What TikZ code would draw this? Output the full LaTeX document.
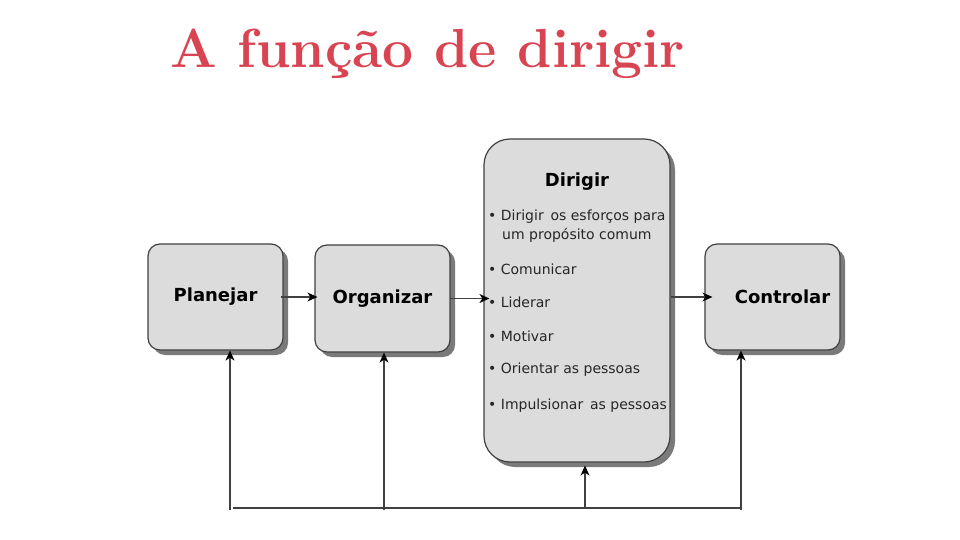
\documentclass[tikz,border=0pt]{standalone}
\usepackage{fontspec}
\newfontfamily\boxfont{DejaVu Sans}
\usetikzlibrary{shadows,arrows.meta}
\definecolor{titlered}{HTML}{D94452}
\definecolor{boxfill}{HTML}{DCDCDC}
\definecolor{boxline}{HTML}{404040}
\definecolor{shade}{HTML}{7A7A7A}
\tikzset{
  stagebox/.style={draw=boxline, line width=1.2pt, fill=boxfill, rounded corners=12pt,
    drop shadow={shadow xshift=5pt, shadow yshift=-5pt, fill=shade, opacity=1},
    inner sep=0pt, font=\boxfont\bfseries\fontsize{18}{21}\selectfont},
  item/.style={anchor=west, inner sep=0pt, font=\boxfont\fontsize{14}{16}\selectfont, text=black!85},
  conn/.style={draw=boxline, line width=1.3pt, -{Stealth[length=10pt,width=9pt,inset=3pt,black]}},
  fb/.style={draw=boxline, line width=1.3pt}
}
\begin{document}
\begin{tikzpicture}[x=1pt,y=-1pt]
\useasboundingbox (0,0) rectangle (960,540);
\node[text=titlered, font=\bfseries\fontsize{55}{66}\selectfont, anchor=base west, inner sep=0pt] (title) at (170,68) {A função de dirigir};

\node[stagebox, minimum width=135pt, minimum height=106pt] (plan) at (215.5,297) {Planejar};
\node[stagebox, minimum width=135pt, minimum height=107pt] (org) at (382.5,298.5) {Organizar};
\node[stagebox, rounded corners=26pt, minimum width=186pt, minimum height=323pt] (dir) at (577,300.5) {};
\node[stagebox, minimum width=135pt, minimum height=106pt] (ctrl) at (772.5,297) {\hspace*{20pt}Controlar};

\node[inner sep=0pt, font=\boxfont\bfseries\fontsize{18}{21}\selectfont] (dt) at (577,182) {Dirigir};
\node[item] (i1) at (488,217) {• Dirigir\, os esforços para};
\node[item] (i1b) at (502,235) {um propósito comum};
\node[item] (i2) at (488,269) {• Comunicar};
\node[item] (i3) at (488,302) {• Liderar};
\node[item] (i4) at (488,336) {• Motivar};
\node[item] (i5) at (488,370) {• Orientar as pessoas};
\node[item] (i6) at (488,406) {• Impulsionar\, as pessoas};

\draw[conn, shorten <=-3pt, shorten >=-3pt] (plan.east) -- (plan.east -| org.west);
\draw[conn, shorten <=-1pt, shorten >=-6pt] (org.east) -- (org.east -| dir.west);
\draw[conn, shorten >=-8pt] (dir.east |- ctrl.west) -- (ctrl.west);

\coordinate (fbL) at (233,508);
\coordinate (fbR) at (741,508);
\coordinate (v1) at (230,510);
\coordinate (v2) at (384,510);
\coordinate (v3) at (585,508);
\coordinate (v4) at (741,510);
\draw[fb] (fbL) -- (fbR);
\draw[conn] (v1) -- (v1 |- plan.south);
\draw[conn] (v2) -- (v2 |- org.south);
\draw[conn, shorten >=3pt] (v3) -- (v3 |- dir.south);
\draw[conn] (v4) -- (v4 |- ctrl.south);
\end{tikzpicture}
\end{document}
